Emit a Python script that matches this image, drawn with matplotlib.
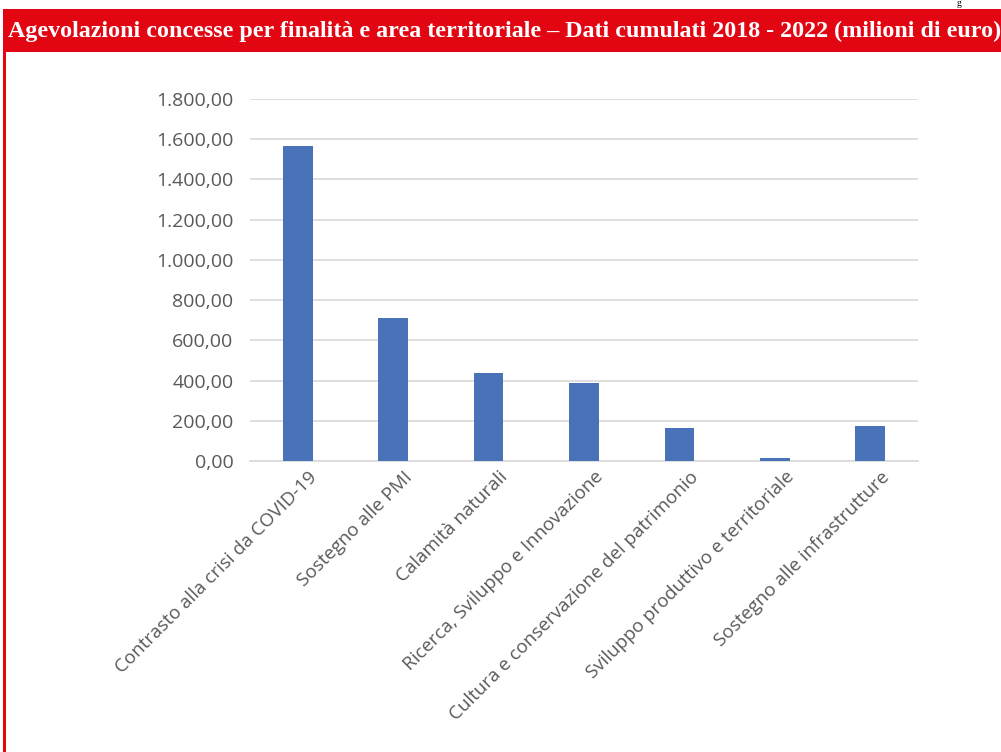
import matplotlib
matplotlib.use("Agg")
import matplotlib.pyplot as plt
from matplotlib.patches import Rectangle
from matplotlib.ticker import FuncFormatter
from matplotlib.transforms import ScaledTranslation

categories = [
    "Contrasto alla crisi da COVID-19",
    "Sostegno alle PMI",
    "Calamità naturali",
    "Ricerca, Sviluppo e Innovazione",
    "Cultura e conservazione del patrimonio",
    "Sviluppo produttivo e territoriale",
    "Sostegno alle infrastrutture",
]
values = [1565, 711, 437, 387, 163, 15, 174]
yticks = [0, 200, 400, 600, 800, 1000, 1200, 1400, 1600, 1800]
title = "Agevolazioni concesse per finalità e area territoriale – Dati cumulati 2018 - 2022 (milioni di euro)"

W, H = 1001, 752
fig = plt.figure(figsize=(W / 100, H / 100), dpi=100)

RED = "#E20613"
# title bar
fig.patches.append(Rectangle((4 / W, 1 - 52 / H), 1 - 4 / W, 43 / H, transform=fig.transFigure,
                             facecolor=RED, edgecolor="none", zorder=0))
# left border
fig.patches.append(Rectangle((3 / W, 0), 2.5 / W, 1 - 9 / H, transform=fig.transFigure,
                             facecolor=RED, edgecolor="none", zorder=0))
fig.text(8 / W, 1 - 31 / H, title, color="white", fontsize=17.3, fontweight="bold",
         family="Liberation Serif", va="center", ha="left")
fig.text(957 / W, 1 - 8 / H, "g", color="black", fontsize=7, family="Liberation Serif",
         va="bottom", ha="left")

ax = fig.add_axes([250 / W, 1 - 461 / H, 668 / W, 362 / H])
x = list(range(len(categories)))
ax.bar(x, values, width=0.31, color="#4A72B8", zorder=3)
ax.set_xlim(-0.5, len(categories) - 0.5)
ax.set_ylim(0, 1800)
ax.set_yticks(yticks)


def fmt(v, pos):
    s = f"{v:,.2f}"
    return s.replace(",", "X").replace(".", ",").replace("X", ".")


ax.yaxis.set_major_formatter(FuncFormatter(fmt))
ax.grid(axis="y", color="#D9D9D9", linewidth=1.2, zorder=0)
for s in ["top", "right", "left"]:
    ax.spines[s].set_visible(False)
ax.spines["bottom"].set_color("#D9D9D9")
ax.spines["bottom"].set_linewidth(1.2)
ax.tick_params(axis="y", length=0, labelsize=14, colors="#595959", pad=12)
ax.tick_params(axis="x", length=0, labelsize=13.5, colors="#595959", pad=5)
ax.set_xticks(x)
ax.set_xticklabels(categories, rotation=45, ha="right", rotation_mode="anchor")
shift = ScaledTranslation(10 / 100, 0, fig.dpi_scale_trans)
for lab in ax.get_xticklabels():
    lab.set_transform(lab.get_transform() + shift)
for lab in ax.get_xticklabels() + ax.get_yticklabels():
    lab.set_family("Open Sans")
    lab.set_color("#595959")

fig.savefig("out.png", dpi=100, facecolor="white")
